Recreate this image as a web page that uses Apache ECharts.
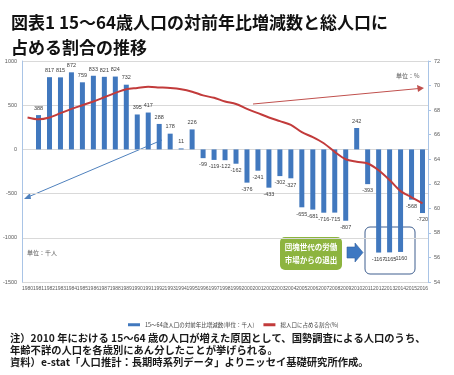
<!DOCTYPE html>
<html>
<head>
<meta charset="utf-8">
<script src="https://cdn.jsdelivr.net/npm/echarts@6/dist/echarts.min.js"></script>
<style>
  html, body { margin: 0; padding: 0; background: #fff; }
  #myChart { width: 454px; height: 375px; }
</style>
</head>
<body>
<div id="myChart"></div>
<script>
// 年
const years = ['1980', '1981', '1982', '1983', '1984', '1985', '1986', '1987', '1988', '1989',
  '1990', '1991', '1992', '1993', '1994', '1995', '1996', '1997', '1998', '1999',
  '2000', '2001', '2002', '2003', '2004', '2005', '2006', '2007', '2008', '2009',
  '2010', '2011', '2012', '2013', '2014', '2015', '2016']
// 15～64歳人口の対前年比増減数（千人）
const changeList = [null, 388, 817, 815, 872, 759, 833, 821, 824, 732,
  395, 417, 288, 178, 11, 226, -99, -119, -122, -162,
  -376, -241, -433, -302, -327, -655, -681, -716, -715, -807,
  242, -393, -1167, -1165, -1160, -568, -720]
// 総人口に占める割合（%）
const shareList = [67.4, 67.25, 67.4, 67.75, 68.1, 68.4, 68.7, 69.05, 69.4, 69.7,
  69.8, 69.9, 69.85, 69.8, 69.7, 69.5, 69.2, 69.0, 68.7, 68.5,
  68.1, 67.75, 67.4, 67.1, 66.8, 66.2, 65.8, 65.3, 64.6, 64.0,
  63.8, 63.65, 63.1, 62.3, 61.4, 60.9, 60.4]

const barName = '15～64歳人口の対前年比増減数(単位：千人)'
const lineName = '総人口に占める割合(%)'

const myChart = echarts.init(document.getElementById('myChart'))

const barData = changeList.map(v => {
  if (v === null) return null
  return { value: v, label: { position: v < 0 ? 'bottom' : 'top' } }
})

const option = {
  animation: false,
  textStyle: { fontFamily: 'Liberation Sans, "Noto Sans CJK JP", sans-serif' },
  title: {
    text: '図表1 15～64歳人口の対前年比増減数と総人口に\n占める割合の推移',
    left: 6,
    top: 5,
    textStyle: {
      fontFamily: '"Noto Sans CJK JP", sans-serif',
      fontSize: 17,
      fontWeight: 'bold',
      color: '#111',
      lineHeight: 25
    }
  },
  legend: {
    left: 123,
    top: 317,
    itemWidth: 12,
    itemHeight: 3,
    itemGap: 9,
    data: [{ name: barName, icon: 'rect' }, { name: lineName, icon: 'rect' }],
    textStyle: { fontSize: 5.5, color: '#404040', fontFamily: '"Noto Sans CJK JP", sans-serif' }
  },
  grid: {
    left: 20,
    right: 26,
    top: 61,
    bottom: 93
  },
  xAxis: {
    type: 'category',
    data: years,
    axisLine: { show: false, onZero: false },
    axisTick: { show: false },
    axisLabel: { fontSize: 5, color: '#595959', interval: 0, margin: 4 }
  },
  yAxis: [
    {
      type: 'value',
      min: -1500,
      max: 1000,
      interval: 500,
      axisLine: { show: true, lineStyle: { color: '#A9C4E6' } },
      axisTick: { show: false },
      axisLabel: { fontSize: 5.5, color: '#595959', margin: 5, formatter: v => String(v) },
      splitLine: { show: true, lineStyle: { color: '#D9D9D9' } }
    },
    {
      type: 'value',
      min: 54,
      max: 72,
      interval: 2,
      position: 'right',
      axisLine: { show: true, lineStyle: { color: '#A9C4E6' } },
      axisTick: { show: true, length: 3, lineStyle: { color: '#A9C4E6' } },
      axisLabel: { fontSize: 5.5, color: '#595959', margin: 6 },
      splitLine: { show: false }
    }
  ],
  series: [
    {
      name: barName,
      type: 'bar',
      data: barData,
      barWidth: 5,
      itemStyle: { color: '#4178BE' },
      label: {
        show: true, fontSize: 5.5, color: '#404040', distance: 4,
        formatter: p => String(p.value)
      }
    },
    {
      name: lineName,
      type: 'line',
      yAxisIndex: 1,
      data: shareList,
      symbol: 'none',
      smooth: 0.3,
      itemStyle: { color: '#C23B3B' },
      lineStyle: { color: '#C23B3B', width: 2 }
    }
  ],
  graphic: [
    // 青い矢印（左軸）
    { type: 'line', shape: { x1: 162, y1: 140, x2: 28, y2: 197 }, style: { stroke: '#4F81BD', lineWidth: 1 } },
    { type: 'polygon', shape: { points: [[24, 199], [30, 193], [31, 199]] }, style: { fill: '#4F81BD' } },
    // 赤い矢印（右軸）
    { type: 'line', shape: { x1: 253, y1: 104, x2: 419, y2: 88.5 }, style: { stroke: '#C0504D', lineWidth: 1 } },
    { type: 'polygon', shape: { points: [[424, 88], [417, 85], [418, 92]] }, style: { fill: '#C0504D' } },
    // 単位
    { type: 'text', left: 396, top: 73, style: { text: '単位：%', fontSize: 6, fill: '#595959', fontFamily: '"Noto Sans CJK JP", sans-serif' } },
    { type: 'text', left: 27, top: 250, style: { text: '単位：千人', fontSize: 6, fill: '#595959', fontFamily: '"Noto Sans CJK JP", sans-serif' } },
    // 緑の吹き出し
    { type: 'rect', shape: { x: 280, y: 237, width: 62, height: 33, r: 5 }, style: { fill: '#8DB43F' } },
    {
      type: 'text', x: 311, y: 254,
      style: {
        text: '団塊世代の労働\n市場からの退出', fontSize: 7.5, fontWeight: 'bold', fill: '#fff',
        align: 'center', verticalAlign: 'middle', lineHeight: 13,
        fontFamily: '"Noto Sans CJK JP", sans-serif'
      }
    },
    // 青い右向き矢印
    {
      type: 'polygon',
      shape: { points: [[347, 247], [355, 247], [355, 243], [363, 252.5], [355, 262], [355, 258], [347, 258]] },
      style: { fill: '#3E78C2', stroke: '#2F5F9E', lineWidth: 0.6 }
    },
    // 枠
    { type: 'rect', shape: { x: 365, y: 227, width: 50, height: 47, r: 5 }, style: { fill: 'none', stroke: '#3F5F8F', lineWidth: 1 } },
    // 注記
    {
      type: 'text', left: 10, top: 332,
      style: {
        text: '注）2010 年における 15～64 歳の人口が増えた原因として、国勢調査による人口のうち、\n年齢不詳の人口を各歳別にあん分したことが挙げられる。\n資料）e-stat「人口推計：長期時系列データ」よりニッセイ基礎研究所作成。',
        fontSize: 10.3, fontWeight: 'bold', fill: '#1a1a1a', lineHeight: 12,
        fontFamily: '"Noto Sans CJK JP", sans-serif'
      }
    }
  ]
}

myChart.setOption(option)
window.addEventListener('resize', function() {
  myChart.resize()
})
</script>
</body>
</html>
